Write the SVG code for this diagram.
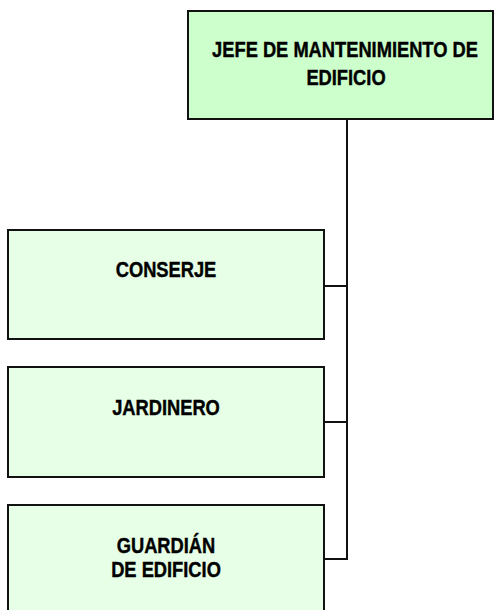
<svg xmlns="http://www.w3.org/2000/svg" width="495" height="610" viewBox="0 0 495 610">
  <style>
    .box { stroke: #111; stroke-width: 2; }
    .head { fill: #ccffcc; }
    .staff { fill: #e6ffe6; }
    .lbl { font-family: "Liberation Sans", Arial, sans-serif; font-weight: bold; font-size: 18.3px; fill: #000; stroke: #000; stroke-width: 0.35; text-anchor: middle; }
    .wire { stroke: #111; stroke-width: 2; fill: none; }
  </style>
  <rect width="495" height="610" fill="#ffffff"/>

  <g id="connectors">
    <path class="wire" d="M347,119 V559 H324"/>
    <path class="wire" d="M347,286 H324"/>
    <path class="wire" d="M347,422 H324"/>
  </g>

  <g id="jefe">
    <rect class="box head" x="188" y="11" width="305" height="108"/>
    <text class="lbl" transform="translate(345,57) scale(1,1.16)">JEFE DE MANTENIMIENTO DE</text>
    <text class="lbl" transform="translate(346,85) scale(1,1.16)">EDIFICIO</text>
  </g>

  <g id="conserje">
    <rect class="box staff" x="8" y="230" width="316" height="109"/>
    <text class="lbl" transform="translate(166,277) scale(1,1.16)">CONSERJE</text>
  </g>

  <g id="jardinero">
    <rect class="box staff" x="8" y="367" width="316" height="110"/>
    <text class="lbl" transform="translate(166,415) scale(1,1.16)">JARDINERO</text>
  </g>

  <g id="guardian">
    <rect class="box staff" x="8" y="505" width="316" height="110"/>
    <text class="lbl" transform="translate(166,553) scale(1,1.16)">GUARDIÁN</text>
    <text class="lbl" transform="translate(166,577) scale(1,1.16)">DE EDIFICIO</text>
  </g>
</svg>
